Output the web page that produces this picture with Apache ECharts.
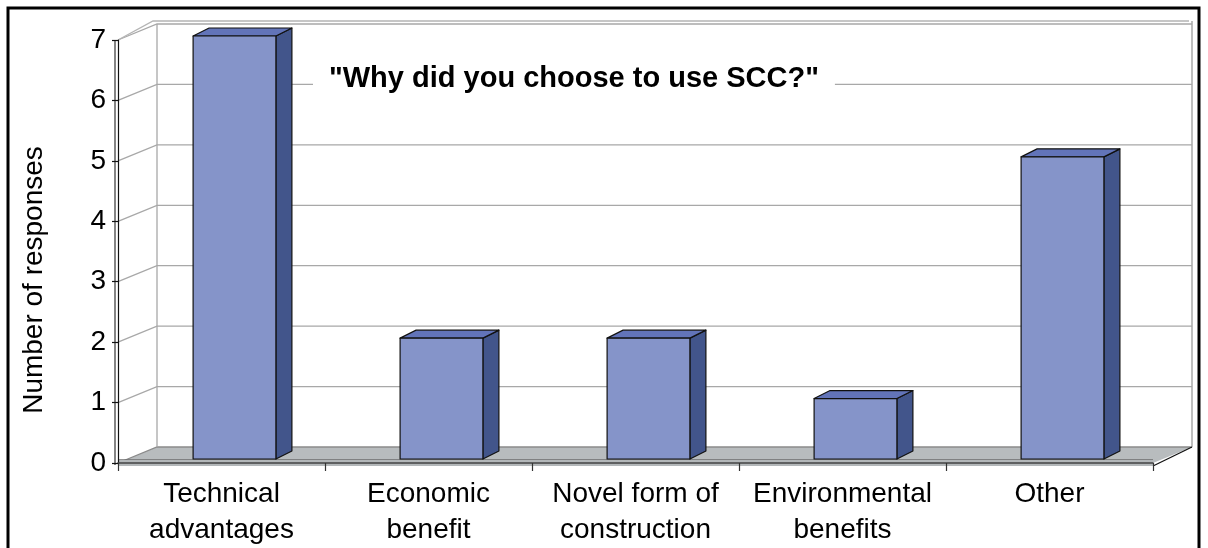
<!DOCTYPE html>
<html>
<head>
<meta charset="utf-8">
<script src="https://cdn.jsdelivr.net/npm/echarts@6/dist/echarts.min.js"></script>
<style>
  html, body { margin: 0; padding: 0; background: #fff; }
  #chart { width: 1208px; height: 548px; }
</style>
</head>
<body>
<div id="chart"></div>
<script>
// ---- data ----
const categories = ['Technical\nadvantages', 'Economic\nbenefit', 'Novel form of\nconstruction', 'Environmental\nbenefits', 'Other'];
const responses = [7, 2, 2, 1, 5];
const yTicks = [0, 1, 2, 3, 4, 5, 6, 7];
const chartTitle = '"Why did you choose to use SCC?"';
const yAxisName = 'Number of responses';

// ---- style constants ----
const FONT = '"Liberation Sans", Arial, sans-serif';
const DX = 39, DY = -16;      // wall depth
const BX = 13, BY = -4;       // bar front-face offset from front plane
const SX = 16, SY = -8;       // bar depth
const yMin = yTicks[0], yMax = yTicks[yTicks.length - 1];

const chart = echarts.init(document.getElementById('chart'), null, { renderer: 'canvas' });

function renderFrame(params, api) {
  const cs = params.coordSys;
  const x0 = cs.x, x1 = cs.x + cs.width;
  const yb = api.coord([0, yMin])[1];
  const yt = api.coord([0, yMax])[1];
  const children = [];
  // floor
  children.push({
    type: 'polygon',
    shape: { points: [[x0, yb], [x1, yb], [x1 + DX, yb + DY], [x0 + DX, yb + DY]] },
    style: { fill: '#b8bcbe', stroke: null }
  });
  // gridlines on side and back wall
  yTicks.forEach(function (v) {
    const y = api.coord([0, v])[1];
    children.push({
      type: 'polyline',
      shape: { points: [[x0, y], [x0 + DX, y + DY], [x1 + DX, y + DY]] },
      style: { stroke: v === yMin ? '#8a8a8a' : '#a8a8a8', lineWidth: 1.3, fill: null }
    });
  });
  // outer top edge (wall thickness)
  children.push({
    type: 'polyline',
    shape: { points: [[x0, yt], [x0 + DX - 4, yt + DY - 3], [x1 + DX - 3, yt + DY - 3]] },
    style: { stroke: '#b4b4b4', lineWidth: 1.3, fill: null }
  });
  // back wall verticals
  children.push({
    type: 'line',
    shape: { x1: x0 + DX, y1: yt + DY, x2: x0 + DX, y2: yb + DY },
    style: { stroke: '#a8a8a8', lineWidth: 1.3 }
  });
  children.push({
    type: 'line',
    shape: { x1: x1 + DX, y1: yt + DY - 3, x2: x1 + DX, y2: yb + DY },
    style: { stroke: '#a8a8a8', lineWidth: 1.5 }
  });
  // floor right diagonal edge
  children.push({
    type: 'line',
    shape: { x1: x1, y1: yb + 3, x2: x1 + DX, y2: yb + DY },
    style: { stroke: '#111', lineWidth: 1.3 }
  });
  // floor front slab edge
  children.push({
    type: 'line',
    shape: { x1: x0, y1: yb - 3, x2: x1, y2: yb - 3 },
    style: { stroke: '#6e6e6e', lineWidth: 1.3 }
  });
  children.push({
    type: 'polygon',
    shape: { points: [[x0, yb - 3], [x1, yb - 3], [x1, yb + 3], [x0, yb + 3]] },
    style: { fill: '#b3b7b9', stroke: null }
  });
  // second line of front wall edge
  children.push({
    type: 'line',
    shape: { x1: x0 - 3, y1: yt, x2: x0 - 3, y2: yb + 2 },
    style: { stroke: '#333', lineWidth: 1.2 }
  });
  return { type: 'group', children: children };
}

function renderBar(params, api) {
  const i = api.value(0), v = api.value(1);
  const base = api.coord([i, yMin]);
  const top = api.coord([i, v]);
  const band = api.size([1, 0])[0];
  const w = band * 0.4;
  const cx = base[0] + BX;
  const yb = base[1] + BY;
  const yt = top[1] + BY;
  const xl = cx - w / 2, xr = cx + w / 2;
  const stroke = { stroke: '#111', lineWidth: 1.2, lineJoin: 'round' };
  return {
    type: 'group',
    children: [
      { type: 'polygon', shape: { points: [[xr, yt], [xr + SX, yt + SY], [xr + SX, yb + SY], [xr, yb]] },
        style: Object.assign({ fill: '#42558b' }, stroke) },
      { type: 'polygon', shape: { points: [[xl, yt], [xl + SX, yt + SY], [xr + SX, yt + SY], [xr, yt]] },
        style: Object.assign({ fill: '#6274b9' }, stroke) },
      { type: 'rect', shape: { x: xl, y: yt, width: w, height: yb - yt },
        style: Object.assign({ fill: '#8594c9' }, stroke) }
    ]
  };
}

const option = {
  backgroundColor: '#ffffff',
  animation: false,
  title: {
    text: chartTitle,
    left: 313,
    top: 62,
    padding: [2, 16],
    backgroundColor: '#ffffff',
    textStyle: { fontFamily: FONT, fontSize: 29, fontWeight: 'bold', color: '#000' }
  },
  grid: { left: 118, right: 55, top: 40, bottom: 85 },
  xAxis: {
    type: 'category',
    data: categories,
    z: 5,
    axisLine: { show: true, lineStyle: { color: '#444', width: 1.5 } },
    axisTick: { show: true, length: 8, lineStyle: { color: '#333', width: 1.2 } },
    axisLabel: { color: '#000', fontFamily: FONT, fontSize: 28, lineHeight: 36, margin: 13, interval: 0 },
    splitLine: { show: false }
  },
  yAxis: {
    type: 'value',
    min: yMin, max: yMax, interval: 1,
    z: 5,
    axisLine: { show: true, lineStyle: { color: '#111', width: 1.2 } },
    axisTick: { show: true, length: 6, lineStyle: { color: '#111', width: 1.2 } },
    axisLabel: { color: '#000', fontFamily: FONT, fontSize: 28, margin: 12 },
    splitLine: { show: false }
  },
  graphic: [
    {
      type: 'text',
      x: 34, y: 280,
      rotation: Math.PI / 2,
      style: { text: yAxisName, font: '28px ' + FONT, fill: '#000', align: 'center', verticalAlign: 'middle' }
    },
    {
      type: 'rect',
      shape: { x: 8, y: 8, width: 1191, height: 560 },
      style: { fill: null, stroke: '#000', lineWidth: 3 },
      z: 100
    }
  ],
  series: [
    {
      type: 'custom',
      name: 'frame',
      data: [[0, 0]],
      renderItem: renderFrame,
      clip: false,
      silent: true,
      z: 1
    },
    {
      type: 'custom',
      name: 'Responses',
      data: responses.map(function (v, i) { return [i, v]; }),
      encode: { x: 0, y: 1 },
      renderItem: renderBar,
      clip: false,
      z: 3
    }
  ]
};
chart.setOption(option);
</script>
</body>
</html>
